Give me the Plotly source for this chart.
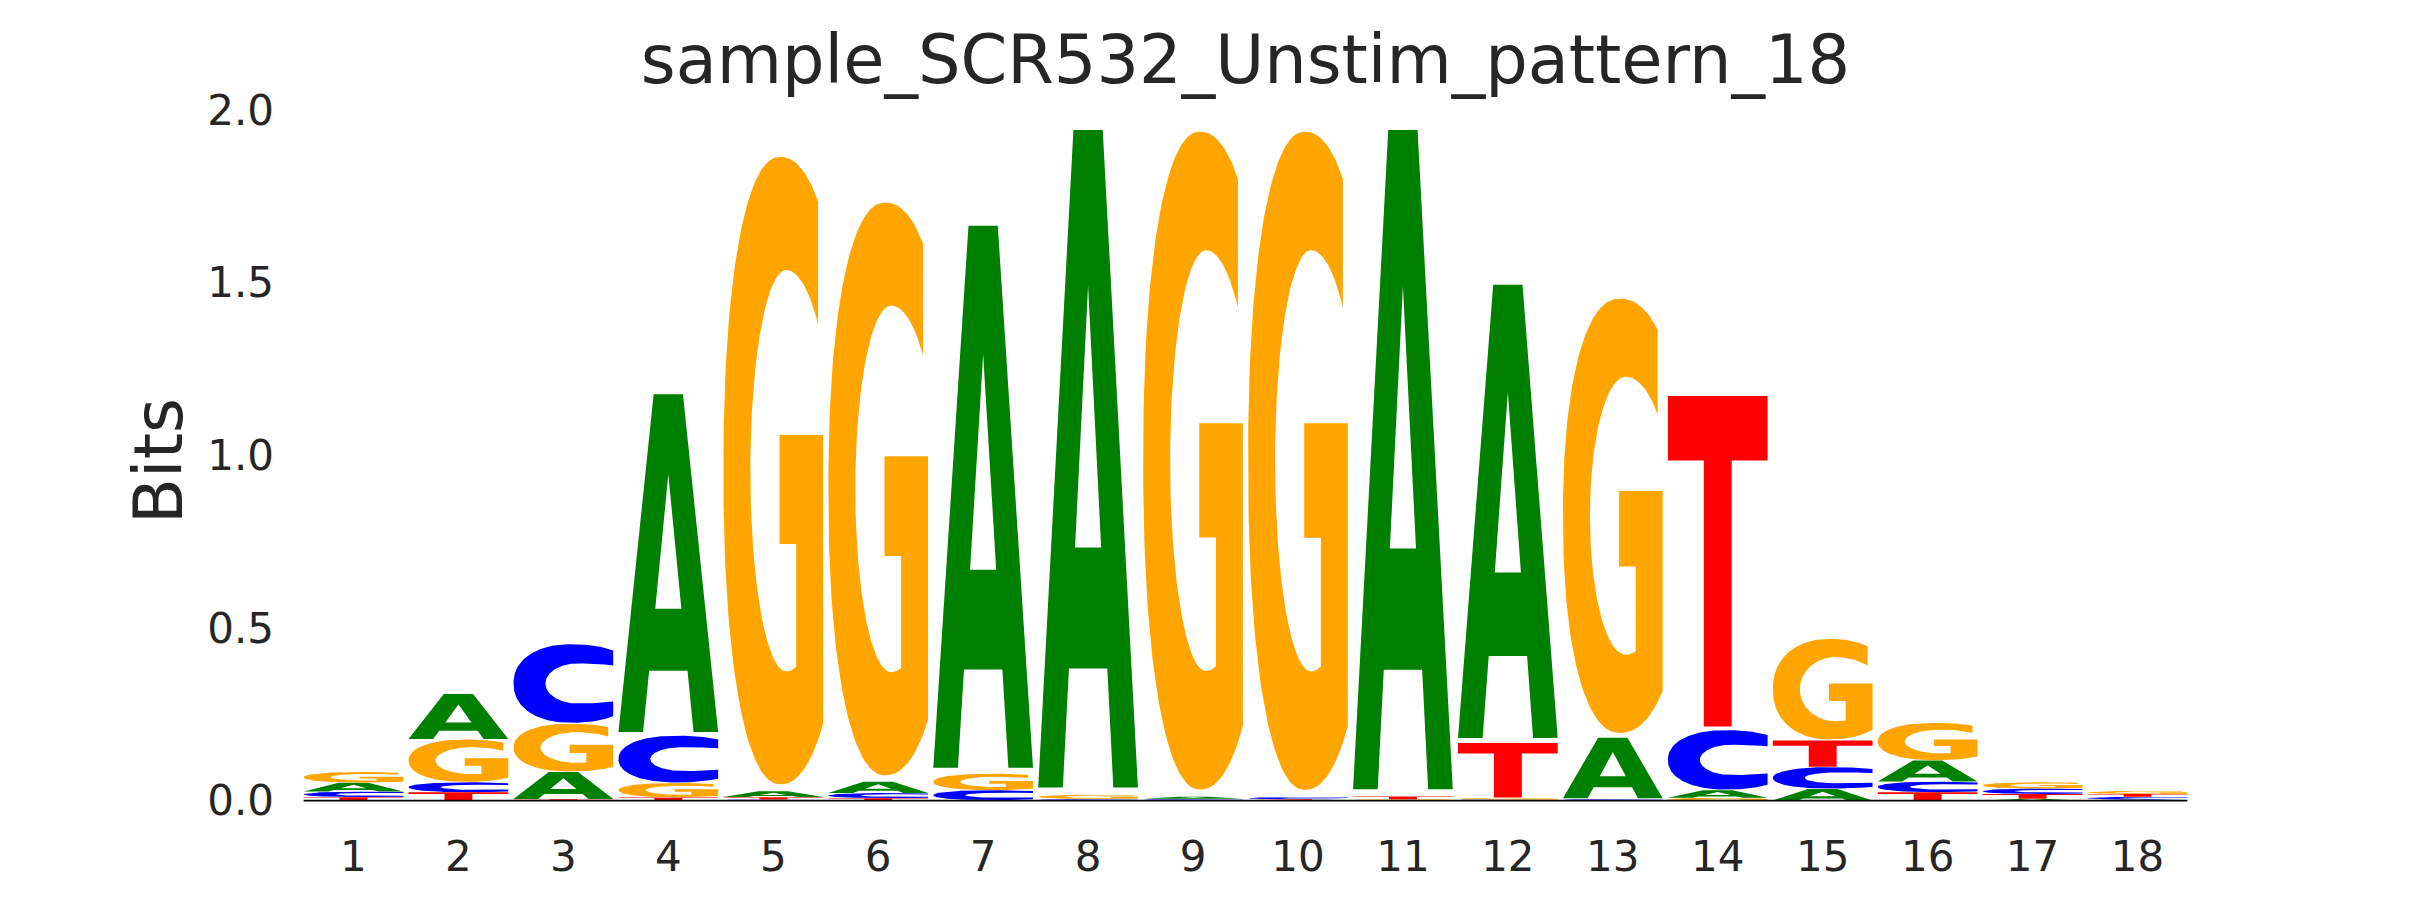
import numpy as np
import plotly.graph_objects as go

# ---------------- data (information content in bits, per position) ----------------
positions = list(range(1, 19))
bits_A = [0.026, 0.132, 0.079, 0.989, 0.017, 0.033, 1.587, 1.925, 0.006, 0.002,
          1.930, 1.327, 0.177, 0.022, 0.034, 0.061, 0.005, 0.003]
bits_C = [0.016, 0.029, 0.230, 0.137, 0.003, 0.015, 0.029, 0.003, 0.003, 0.006,
          0.002, 0.003, 0.003, 0.174, 0.063, 0.031, 0.016, 0.008]
bits_G = [0.031, 0.124, 0.140, 0.042, 1.837, 1.677, 0.048, 0.012, 1.926, 1.927,
          0.002, 0.004, 1.272, 0.008, 0.294, 0.109, 0.018, 0.009]
bits_T = [0.010, 0.024, 0.004, 0.009, 0.007, 0.007, 0.001, 0.002, 0.002, 0.002,
          0.008, 0.160, 0.002, 0.968, 0.077, 0.024, 0.014, 0.008]
y_tick_values = [0.0, 0.5, 1.0, 1.5, 2.0]
y_tick_labels = ["0.0", "0.5", "1.0", "1.5", "2.0"]
x_tick_labels = [str(p) for p in positions]
title_text = "sample_SCR532_Unstim_pattern_18"
y_label = "Bits"
letter_colors = {"A": "#008000", "C": "#0000ff", "G": "#ffa500", "T": "#ff0000"}

# ---------------- glyph outlines (unit box, y up) ----------------
def sarc(cx, cy, rxl, rxr, ry, t0, t1, e, n=140):
    t = np.radians(np.linspace(t0, t1, n))
    c, s = np.cos(t), np.sin(t)
    p = 2.0 / e
    x = cx + np.where(c > 0, rxr, rxl) * np.sign(c) * np.abs(c) ** p
    y = cy + ry * np.sign(s) * np.abs(s) ** p
    return list(zip(x, y))


def solve_t(cx, rx, e, xt):
    p = 2.0 / e
    c = ((xt - cx) / rx) ** (1.0 / p)
    return float(np.degrees(np.arccos(c)))


def glyph_A():
    outer = [(0, 0), (0.247, 0), (0.308, 0.181), (0.693, 0.181), (0.753, 0),
             (1, 0), (0.647, 1), (0.353, 1)]
    counter = [(0.369, 0.365), (0.5, 0.763), (0.631, 0.365)]
    return [outer, counter]


def glyph_T():
    return [[(0, 1), (0, 0.805), (0.36, 0.805), (0.36, 0), (0.64, 0),
             (0.64, 0.805), (1, 0.805), (1, 1)]]


def glyph_C():
    eo, cxo, rxlo, rxro = 2.2, 0.58, 0.58, 0.70
    to = solve_t(cxo, rxro, eo, 1.0)
    outer = sarc(cxo, 0.5, rxlo, rxro, 0.5, to, 360 - to, eo)
    ei, cxi, rxli, rxri, ryi = 2.0, 0.64, 0.32, 0.83, 0.255
    ti = solve_t(cxi, rxri, ei, 1.0)
    inner = sarc(cxi, 0.5, rxli, rxri, ryi, 360 - ti, ti, ei)
    return [outer + inner]


def glyph_G():
    eo, cxo, rxlo, rxro = 2.2, 0.57, 0.57, 0.67
    t_top = solve_t(cxo, rxro, eo, 0.95)
    t_bot = 360 - solve_t(cxo, rxro, eo, 1.0)
    outer = sarc(cxo, 0.5, rxlo, rxro, 0.5, t_top, t_bot, eo)
    bar = [(1, 0.557), (0.563, 0.557), (0.563, 0.383), (0.73, 0.383)]
    cxi, rxli, rxri, ryi = 0.63, 0.36, 0.467, 0.32
    ti_bot = 360 - float(np.degrees(np.arccos((0.73 - cxi) / rxri)))
    ti_top = float(np.degrees(np.arccos((0.95 - cxi) / rxri)))
    inner = sarc(cxi, 0.5, rxli, rxri, ryi, ti_bot, ti_top, 2.0)
    return [outer + bar + inner]


glyphs = {"A": glyph_A(), "C": glyph_C(), "G": glyph_G(), "T": glyph_T()}

# ---------------- build stacked letters ----------------
bits = {"A": bits_A, "C": bits_C, "G": bits_G, "T": bits_T}
letter_w = 0.95
gap = 0.011
xs = {k: [] for k in bits}
ys = {k: [] for k in bits}
for i, pos in enumerate(positions):
    order = sorted(bits.keys(), key=lambda k: bits[k][i])
    floor = 0.0
    for k in order:
        h = bits[k][i]
        for contour in glyphs[k]:
            for px, py in contour:
                xs[k].append(pos - letter_w / 2 + letter_w * px)
                ys[k].append(floor + h * gap + h * (1 - gap) * py)
            xs[k].append(None)
            ys[k].append(None)
        floor += h

fig = go.Figure()
for k in ["A", "C", "G", "T"]:
    fig.add_trace(go.Scatter(
        x=xs[k], y=ys[k], mode="lines", fill="toself",
        fillcolor=letter_colors[k], line=dict(width=0, color=letter_colors[k]),
        hoverinfo="skip", showlegend=False, name=k))

# baseline
fig.add_trace(go.Scatter(
    x=[positions[0] - letter_w / 2, positions[-1] + letter_w / 2], y=[0, 0],
    mode="lines", line=dict(color="black", width=1.6),
    hoverinfo="skip", showlegend=False))

font_family = "DejaVu Sans"
text_color = "#262626"
fig.update_layout(
    width=2430, height=900,
    margin=dict(l=301, r=240, t=110, b=98),
    plot_bgcolor="white", paper_bgcolor="white",
    showlegend=False,
    title=dict(text=title_text, x=0.5, xref="paper", xanchor="center",
               y=1 - 59.5 / 900, yref="container", yanchor="middle",
               font=dict(family=font_family, size=67, color=text_color)),
    xaxis=dict(range=[0.5, 18.5], tickmode="array", tickvals=positions,
               ticktext=x_tick_labels, showgrid=False, zeroline=False,
               showline=False, ticks="", ticklabelstandoff=26,
               tickfont=dict(family=font_family, size=42, color=text_color)),
    yaxis=dict(range=[-0.004, 2.0], tickmode="array", tickvals=y_tick_values,
               ticktext=y_tick_labels, showgrid=False, zeroline=False,
               showline=False, ticks="", ticklabelstandoff=26,
               tickfont=dict(family=font_family, size=42, color=text_color)),
    annotations=[dict(text=y_label, textangle=-90, xref="paper", yref="paper",
                      x=(159.5 - 301) / 1889, y=(800.6 - 460) / 692,
                      xanchor="center", yanchor="middle", showarrow=False,
                      font=dict(family=font_family, size=67, color=text_color))],
)

fig.write_html(
    "out.html",
    config={"displayModeBar": False},
    post_script="document.body.style.margin='0';document.body.style.padding='0';"
                "document.documentElement.style.overflow='hidden';",
)
